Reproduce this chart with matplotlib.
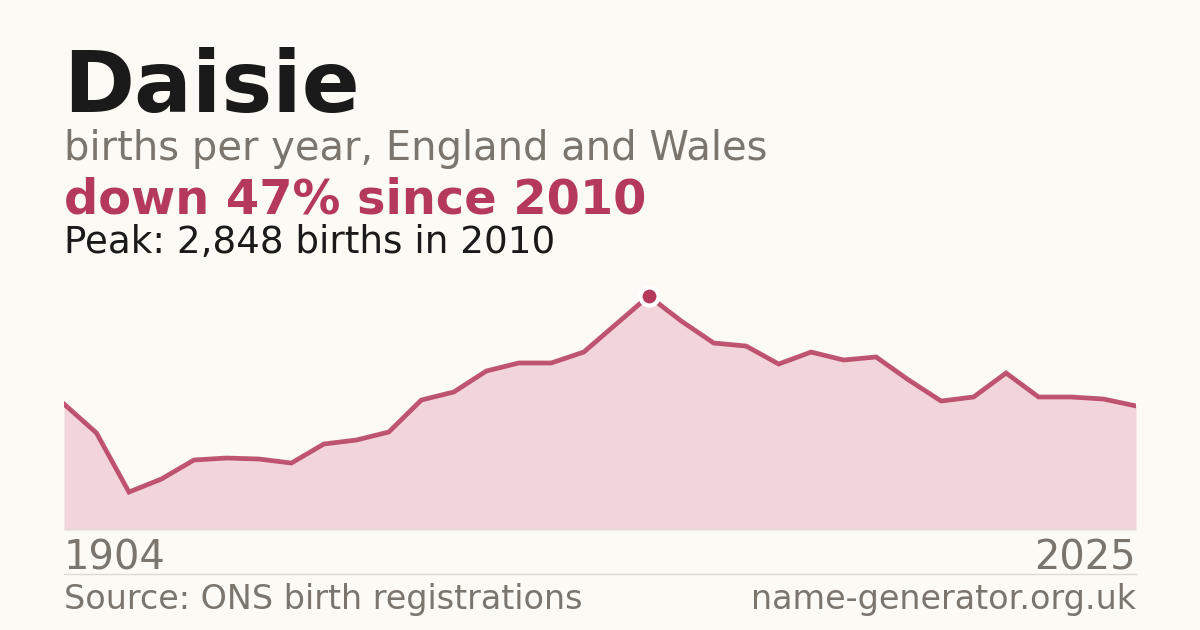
import numpy as np
import matplotlib
matplotlib.use("Agg")
import matplotlib.pyplot as plt
from matplotlib.lines import Line2D

# yearly births for Daisie
years = [1904, 1934, 1954, 1974] + list(range(1996, 2026))
births = [1534, 1181, 462, 621, 852, 876, 864, 815, 1047, 1095,
          1193, 1582, 1680, 1935, 2033, 2033, 2166, 2507, 2848, 2544,
          2276, 2239, 2020, 2166, 2069, 2106, 1826, 1570, 1619, 1911,
          1619, 1619, 1594, 1510]
peak_year = 2010
peak_val = 2848

W, H = 1200, 630
bg = "#fbfaf5"
red = "#b5395a"
grey = "#7a756d"

fig = plt.figure(figsize=(12, 6.3), dpi=100, facecolor=bg)

def fx(px):
    return px / W

def fy(px):
    return 1 - px / H

ax = fig.add_axes([fx(64), fy(530), fx(1136 - 64), (530 - 280) / H])
ax.set_facecolor(bg)
idx = np.arange(len(years))
ax.fill_between(idx, births, 0, color="#f2d5da", lw=0)
ax.plot(idx, births, color=red, lw=3.4, alpha=0.85, solid_joinstyle="miter")
pk = years.index(peak_year)
ax.plot(idx[pk], births[pk], "o", ms=13, color=red, mec="white", mew=3, zorder=5)
ax.axhline(0, color="#dedad2", lw=1.2)
ax.set_xlim(0, len(years) - 1)
ax.set_ylim(0, peak_val * 250 / 234)
ax.axis("off")

fig.text(fx(63), fy(112), "Daisie", fontsize=61.7, fontweight="bold", color="#1a1a1a")
fig.text(fx(64), fy(160), "births per year, England and Wales", fontsize=28.8, color=grey)
fig.text(fx(64), fy(214), "down 47% since 2010", fontsize=34.5, fontweight="bold", color=red)
fig.text(fx(64), fy(253), f"Peak: {peak_val:,} births in {peak_year}", fontsize=26.8, color="#1a1a1a")

fig.text(fx(64), fy(569), str(years[0]), fontsize=28.8, color=grey)
fig.text(fx(1136), fy(569), str(years[-1]), fontsize=28.8, color=grey, ha="right")
fig.add_artist(Line2D([fx(64), fx(1136)], [fy(574), fy(574)], color="#dedad2", lw=1))
fig.text(fx(64), fy(609), "Source: ONS birth registrations", fontsize=24, color=grey)
fig.text(fx(1136), fy(609), "name-generator.org.uk", fontsize=24, color=grey, ha="right")

fig.savefig("out.png", dpi=100, facecolor=bg)
